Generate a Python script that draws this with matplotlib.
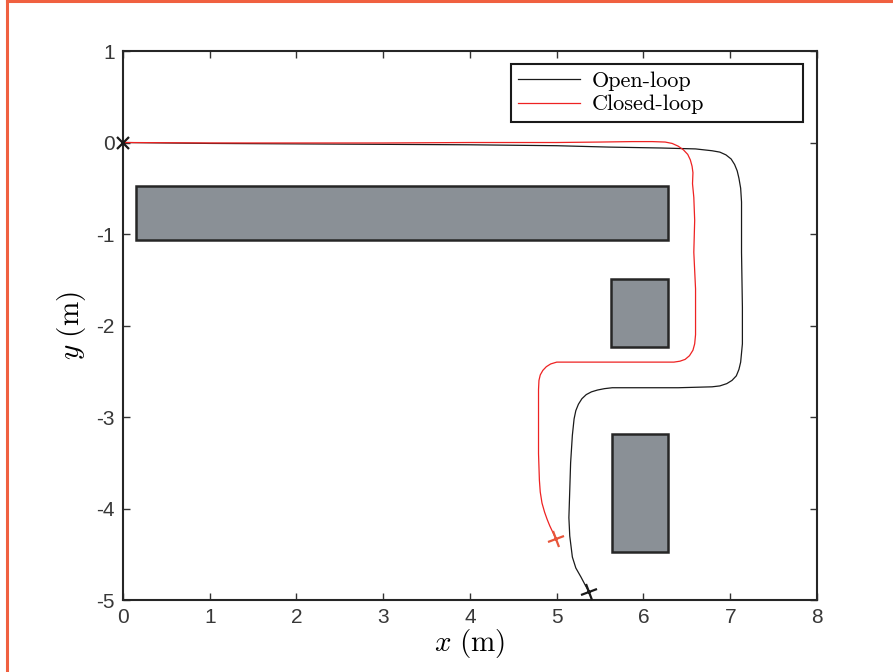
import matplotlib
matplotlib.use("Agg")
import matplotlib.pyplot as plt
from matplotlib.patches import Rectangle
from matplotlib.lines import Line2D
from matplotlib.markers import MarkerStyle
from matplotlib.transforms import Affine2D

# obstacles: (x0, y0, width, height)
obstacles = [
    (0.15, -1.06, 6.13, 0.58),
    (5.63, -2.24, 0.65, 0.75),
    (5.64, -4.48, 0.64, 1.29),
]

open_x = [0.0, 1.0, 2.0, 3.0, 4.0, 5.0, 5.6, 6.2, 6.6, 6.79, 6.88, 6.95, 7.01,
          7.05, 7.08, 7.10, 7.12, 7.13, 7.13, 7.14, 7.14, 7.13, 7.12, 7.10, 7.07,
          7.02, 6.96, 6.88, 6.79, 6.4, 6.0, 5.64, 5.55, 5.47, 5.40, 5.34, 5.29,
          5.25, 5.22, 5.20, 5.18, 5.16, 5.15, 5.14, 5.15, 5.18, 5.22, 5.28, 5.33,
          5.37]
open_y = [0.0, -0.01, -0.015, -0.02, -0.025, -0.035, -0.05, -0.06, -0.07, -0.09,
          -0.105, -0.135, -0.18, -0.24, -0.31, -0.39, -0.5, -0.65, -1.2, -1.8,
          -2.2, -2.3, -2.4, -2.48, -2.55, -2.60, -2.635, -2.66, -2.67, -2.68,
          -2.68, -2.68, -2.69, -2.705, -2.725, -2.755, -2.80, -2.86, -2.93,
          -3.02, -3.2, -3.5, -3.8, -4.1, -4.3, -4.53, -4.65, -4.75, -4.84, -4.91]

closed_x = [0.0, 1.0, 2.0, 3.0, 4.0, 5.0, 5.5, 5.87, 6.1, 6.25, 6.33, 6.40, 6.46,
            6.51, 6.54, 6.56, 6.57, 6.565, 6.58, 6.59, 6.58, 6.6, 6.6, 6.59, 6.57,
            6.53, 6.48, 6.42, 6.35, 6.0, 5.6, 5.2, 5.0, 4.93, 4.88, 4.84, 4.81,
            4.795, 4.79, 4.79, 4.79, 4.80, 4.81, 4.83, 4.86, 4.89, 4.92, 4.95,
            4.99]
closed_y = [0.0, -0.005, -0.005, -0.005, 0.0, 0.0, 0.005, 0.01, 0.01, 0.005,
            -0.01, -0.04, -0.08, -0.13, -0.19, -0.26, -0.33, -0.45, -0.6, -0.85,
            -1.2, -1.6, -2.1, -2.2, -2.27, -2.33, -2.37, -2.39, -2.4, -2.4, -2.4,
            -2.4, -2.4, -2.42, -2.45, -2.49, -2.54, -2.6, -2.7, -3.0, -3.4, -3.69,
            -3.82, -3.94, -4.04, -4.12, -4.19, -4.25, -4.33]

x_ticks = [0, 1, 2, 3, 4, 5, 6, 7, 8]
y_ticks = [1, 0, -1, -2, -3, -4, -5]

plt.rcParams["mathtext.fontset"] = "cm"

fig = plt.figure(figsize=(8.93, 6.72), dpi=100)
ax = fig.add_axes([0.1377, 0.1071, 0.7772, 0.817])

for x0, y0, w, h in obstacles:
    ax.add_patch(Rectangle((x0, y0), w, h, facecolor="#8a9096",
                           edgecolor="#262626", linewidth=1.8, zorder=2))

ax.plot(open_x, open_y, color="#1a1a1a", linewidth=0.9, label="Open-loop", zorder=3)
ax.plot(closed_x, closed_y, color="#ee2222", linewidth=0.9, label="Closed-loop", zorder=3)

# start and end poses
ax.plot(open_x[0], open_y[0], marker="x", color="#1a1a1a", markersize=8,
        markeredgewidth=1.6, zorder=4, clip_on=False)
tilt = MarkerStyle("+", transform=Affine2D().rotate_deg(20))
ax.plot(open_x[-1], open_y[-1], marker=tilt, color="#1a1a1a", markersize=13,
        markeredgewidth=1.6, zorder=4, clip_on=False)
ax.plot(closed_x[-1], closed_y[-1], marker=tilt, color="#e8553a", markersize=13,
        markeredgewidth=1.6, zorder=4)

ax.set_xlim(0, 8)
ax.set_ylim(-5, 1)
ax.set_xticks(x_ticks)
ax.set_yticks(y_ticks)
ax.set_xticklabels([str(t) for t in x_ticks], fontfamily="Liberation Sans")
ax.set_yticklabels([str(t) for t in y_ticks], fontfamily="Liberation Sans")
ax.tick_params(direction="in", top=True, right=True, length=5, width=1,
               labelsize=15, labelcolor="#383838", color="#333333", pad=6)
for s in ax.spines.values():
    s.set_linewidth(1.5)
    s.set_color("#262626")

ax.set_xlabel(r"$x\ (\mathrm{m})$", fontsize=21, labelpad=0)
ax.set_ylabel(r"$y\ (\mathrm{m})$", fontsize=21, labelpad=6)

leg = ax.legend(loc="upper left", bbox_to_anchor=(0.559, 0.871, 0.421, 0.105),
                mode="expand", borderaxespad=0, fancybox=False, framealpha=1,
                handlelength=2.8, handletextpad=0.5,
                prop={"family": "cmr10", "size": 16},
                borderpad=0.32, labelspacing=0.18)
leg.get_frame().set_edgecolor("#1a1a1a")
leg.get_frame().set_linewidth(1.5)

# frame lines along the top and left edges
fig.add_artist(Line2D([0.0075, 0.0075], [0, 1], transform=fig.transFigure,
                      color="#f06040", linewidth=2.2))
fig.add_artist(Line2D([0.0075, 1], [0.998, 0.998], transform=fig.transFigure,
                      color="#f06040", linewidth=2.2))

fig.savefig("out.png", dpi=100)
